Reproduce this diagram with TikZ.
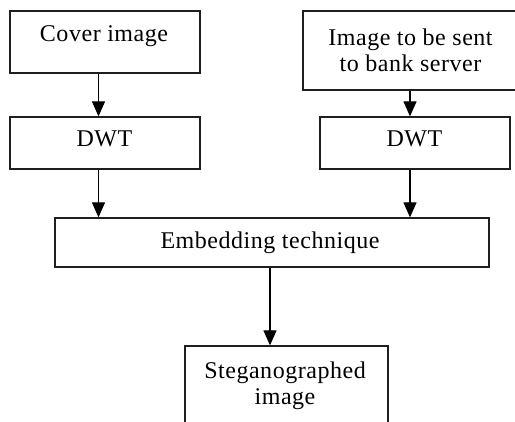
\documentclass[tikz,border=0pt]{standalone}
\usepackage{fontspec}
\setmainfont{Liberation Serif}[LetterSpace=2.2]
\usetikzlibrary{arrows.meta}
\begin{document}
\begin{tikzpicture}[x=1pt,y=-1pt,
  box/.style={draw=black!88,line width=1.3pt,rectangle,inner sep=0pt,minimum width=#1},
  lbl/.style={inner sep=0pt,font=\fontsize{24}{26.5}\selectfont,align=center,anchor=base},
  arr/.style={draw=black,line width=1.3pt,-{Triangle[length=15pt,width=13pt]}}]
\useasboundingbox (0,0) rectangle (515,422);
\clip (0,0) rectangle (515,422);
\fill[white] (0,0) rectangle (515,422);
% boxes
\node[box=190pt,minimum height=62pt] (cover) at (105,42) {};
\node[box=190pt,minimum height=52pt] (dwta) at (105,143) {};
\node[box=227pt,minimum height=79pt] (img) at (416.5,50.5) {};
\node[box=190pt,minimum height=52pt] (dwtb) at (415,143) {};
\node[box=434pt,minimum height=49pt] (emb) at (272,242.5) {};
\node[box=203pt,minimum height=94pt] (steg) at (286.5,393) {};
% texts (multi-line texts are anchored at the baseline of their last line)
\node[lbl] (tcover) at (104,42) {Cover image};
\node[lbl] (tdwta) at (104.5,147) {DWT};
\node[lbl] (timg) at (410.5,72) {Image to be sent\\to bank server};
\node[lbl] (tdwtb) at (414.5,147) {DWT};
\node[lbl] (temb) at (270,249) {Embedding technique};
\node[lbl] (tsteg) at (285,405) {Steganographed\\image};
% connectors
\coordinate (xl) at (98.5,0);
\coordinate (xr) at (410,0);
\coordinate (xm) at (270,0);
\draw[arr] (xl |- cover.south) -- (xl |- dwta.north);
\draw[arr] (xl |- dwta.south) -- (xl |- emb.north);
\draw[arr] (xr |- img.south) -- (xr |- dwtb.north);
\draw[arr] (xr |- dwtb.south) -- (xr |- emb.north);
\draw[arr] (xm |- emb.south) -- (xm |- steg.north);
\end{tikzpicture}
\end{document}
